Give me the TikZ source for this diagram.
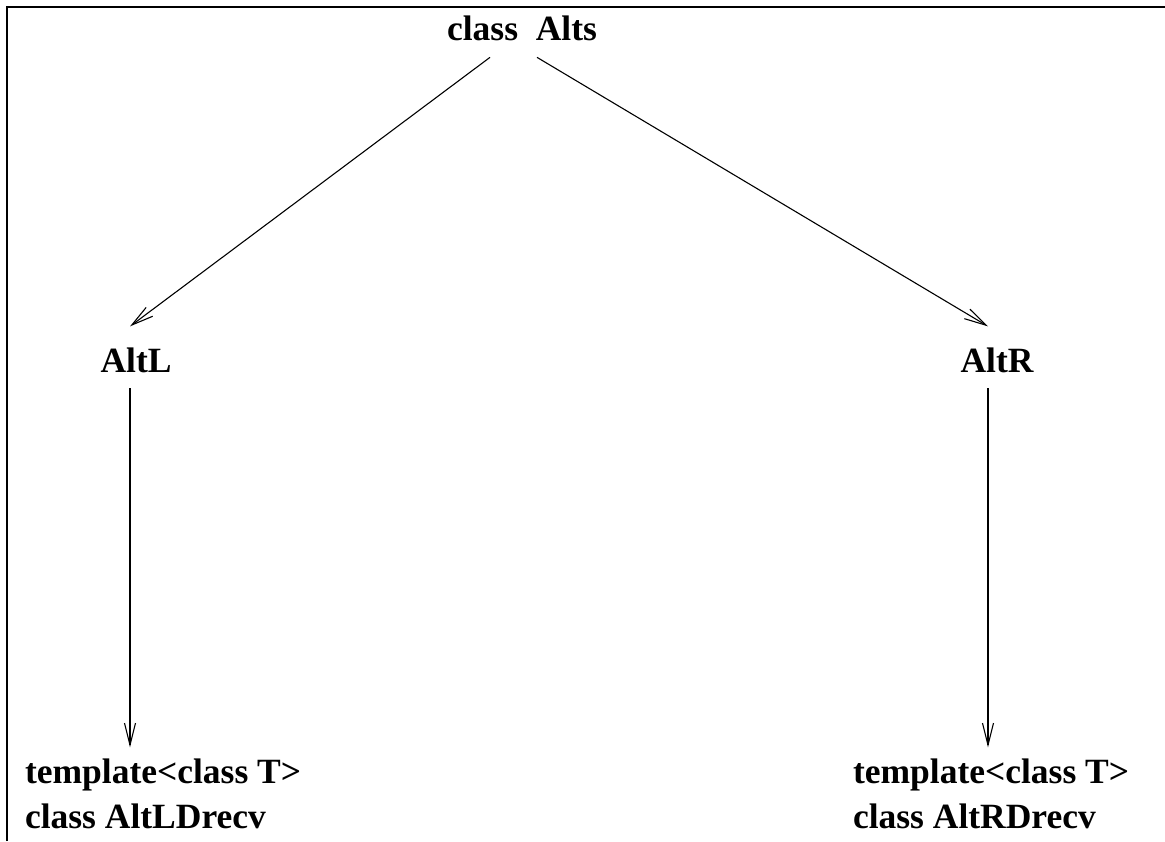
\documentclass[tikz,border=0pt]{standalone}
\usepackage{fontspec}
\setmainfont{Liberation Serif}
\usetikzlibrary{arrows.meta}
\begin{document}
\begin{tikzpicture}[x=1pt,y=-1pt,
  label/.style={inner sep=0pt,outer sep=0pt,font=\fontsize{35.5}{40}\selectfont\bfseries},
  arr/.style={line width=1.1pt,-{Straight Barb[length=22pt,width=11pt,line width=1.1pt]}}]
  \useasboundingbox (0,0) rectangle (1165,841);
  % frame (left and top edges)
  \draw[line width=2.6pt] (7,841) -- (7,7) -- (1165,7);

  % class names
  \node[label,anchor=base] (top) at (522,40) {class\ \ Alts};
  \node[label,anchor=base] (altl) at (136,372) {AltL};
  \node[label,anchor=base] (altr) at (997,372) {AltR};
  \node[label,anchor=base west] (tl1) at (25,783) {template<class T>};
  \node[label,anchor=base west] (tl2) at (25,828) {class AltLDrecv};
  \node[label,anchor=base west] (tr1) at (853,783) {template<class T>};
  \node[label,anchor=base west] (tr2) at (853,828) {class AltRDrecv};

  % inheritance arrows
  \draw[arr] ([xshift=-32pt,yshift=-17pt]top.south) -- ([xshift=-6pt,yshift=21pt]altl.north);
  \draw[arr] ([xshift=15pt,yshift=-17pt]top.south) -- ([xshift=-9pt,yshift=21pt]altr.north);

  \coordinate (ls) at ([xshift=-6pt,yshift=-16pt]altl.south);
  \coordinate (le) at ([yshift=11pt]tl1.north);
  \draw[arr] (ls) -- (ls |- le);
  \coordinate (rs) at ([xshift=-9pt,yshift=-16pt]altr.south);
  \coordinate (re) at ([yshift=11pt]tr1.north);
  \draw[arr] (rs) -- (rs |- re);
\end{tikzpicture}
\end{document}
